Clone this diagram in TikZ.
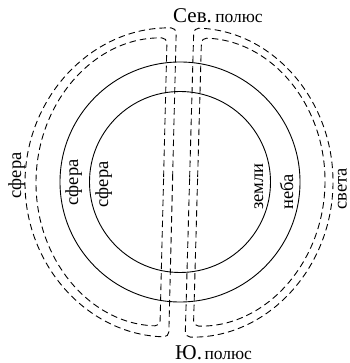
\documentclass[tikz,border=0pt]{standalone}
\usepackage{fontspec}
\setmainfont{Liberation Serif}
\begin{document}
\begin{tikzpicture}[x=1pt,y=1pt,
  solidline/.style={line width=0.9pt},
  dashline/.style={line width=0.9pt, dash pattern=on 6.5pt off 4pt, rounded corners=5pt},
  lbl/.style={font=\fontsize{18.5}{20}\selectfont, rotate=90, anchor=base, inner sep=0pt},
  title/.style={anchor=base west, inner sep=0pt}]
\useasboundingbox (0,0) rectangle (349,363);
% solid spheres
\draw[solidline] (180,181) circle[radius=90.5];
\draw[solidline] (180,181) circle[radius=120];
% dashed half-shells, left
\begin{scope}[shift={(172.5,180.5)}, rotate=-1.4]
\draw[dashline] (0,0) -- (0,154.5) arc[start angle=90, end angle=270, x radius=147.5, y radius=154.5] -- cycle;
\end{scope}
\begin{scope}[shift={(163.5,181)}, rotate=-1.4]
\draw[dashline] (0,0) -- (0,144) arc[start angle=90, end angle=270, x radius=127.5, y radius=144] -- cycle;
\end{scope}
% dashed half-shells, right
\begin{scope}[shift={(189.5,180.5)}, rotate=-1.6]
\draw[dashline] (0,0) -- (0,154.5) arc[start angle=90, end angle=-90, x radius=143.5, y radius=154.5] -- cycle;
\end{scope}
\begin{scope}[shift={(197.5,181)}, rotate=-1.6]
\draw[dashline] (0,0) -- (0,144) arc[start angle=90, end angle=-90, x radius=127.5, y radius=144] -- cycle;
\end{scope}
% labels
\node[lbl] (s1) at (21,187.5) {сфера};
\node[lbl] (s2) at (78,180.5) {сфера};
\node[lbl] (s3) at (108,178.5) {сфера};
\node[lbl] (zemli) at (263,176.5) {земли};
\node[lbl] (neba) at (293,171) {неба};
\node[lbl] (sveta) at (346.5,174) {света};
\node[title] (north) at (173,340) {{\fontsize{21}{24}\selectfont Сев.} {\fontsize{17.5}{20}\selectfont полюс}};
\node[title] (south) at (175,4) {{\fontsize{21}{24}\selectfont Ю.} {\fontsize{17.5}{20}\selectfont полюс}};
\end{tikzpicture}
\end{document}
